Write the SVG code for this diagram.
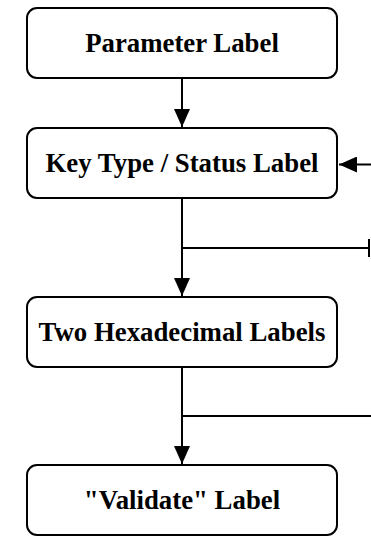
<svg xmlns="http://www.w3.org/2000/svg" width="371" height="538" viewBox="0 0 371 538">
<style>
.box{fill:#fff;stroke:#000;stroke-width:2}
.lbl{font-weight:bold;font-size:26.8px;fill:#000;text-anchor:middle}
.c{fill:none;stroke:#000;stroke-width:2}
</style>
<defs>
<marker id="ah" markerUnits="userSpaceOnUse" markerWidth="18" markerHeight="16" refX="18" refY="8" orient="auto">
<path d="M0,0 L18,8 L0,16 z" fill="#000"/>
</marker>
<marker id="tick" markerUnits="userSpaceOnUse" markerWidth="4" markerHeight="18" refX="2" refY="9" orient="auto">
<line x1="2" y1="0" x2="2" y2="18" stroke="#000" stroke-width="2"/>
</marker>
</defs>
<g id="connectors">
<line class="c" x1="182" y1="79" x2="182" y2="127" marker-end="url(#ah)"/>
<line class="c" x1="371" y1="164.5" x2="339" y2="164.5" marker-end="url(#ah)"/>
<line class="c" x1="182" y1="199" x2="182" y2="296" marker-end="url(#ah)"/>
<line class="c" x1="182" y1="248" x2="369" y2="248" marker-end="url(#tick)"/>
<line class="c" x1="182" y1="368" x2="182" y2="464" marker-end="url(#ah)"/>
<line class="c" x1="182" y1="416" x2="371" y2="416"/>
</g>
<g id="n1"><rect class="box" x="27" y="8" width="310" height="70" rx="10"/><text class="lbl" font-family="Liberation Serif, Times New Roman, DejaVu Serif, serif" x="182" y="52">Parameter Label</text></g>
<g id="n2"><rect class="box" x="27" y="128" width="310" height="70" rx="10"/><text class="lbl" font-family="Liberation Serif, Times New Roman, DejaVu Serif, serif" x="182" y="172">Key Type / Status Label</text></g>
<g id="n3"><rect class="box" x="27" y="297" width="310" height="70" rx="10"/><text class="lbl" font-family="Liberation Serif, Times New Roman, DejaVu Serif, serif" x="182" y="341">Two Hexadecimal Labels</text></g>
<g id="n4"><rect class="box" x="27" y="465" width="310" height="70" rx="10"/><text class="lbl" font-family="Liberation Serif, Times New Roman, DejaVu Serif, serif" x="182" y="509">"Validate" Label</text></g>
</svg>
